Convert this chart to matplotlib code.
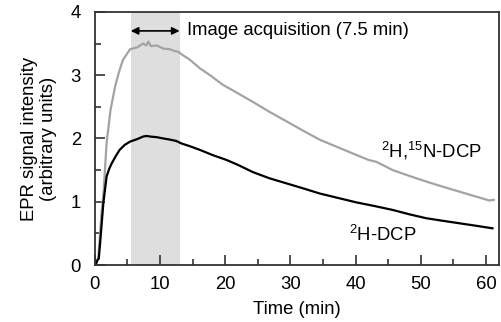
import matplotlib.pyplot as plt
from matplotlib.ticker import MultipleLocator

plt.rcParams['font.family'] = ['Liberation Sans', 'DejaVu Sans']
plt.rcParams['mathtext.default'] = 'regular'

# values
t_15n = [0.3, 0.5, 0.8, 1.0, 1.3, 1.8, 2.4, 3.1, 3.7, 4.3, 5.4, 6.5, 7.4, 7.9, 8.2, 8.6, 9.5,
         10.5, 11.5, 12.3, 12.8, 13.3, 14.5, 16.1, 17.8, 19.6, 21.5, 24.2, 26.8, 29.4, 32.0,
         34.5, 37.3, 40.1, 42.0, 43.2, 45.7, 48.2, 50.8, 53.3, 55.9, 58.2, 60.5, 61.2]
v_15n = [0.05, 0.1, 0.5, 0.8, 1.1, 1.93, 2.45, 2.82, 3.05, 3.24, 3.41, 3.44, 3.50, 3.47, 3.53,
         3.46, 3.47, 3.42, 3.41, 3.38, 3.37, 3.33, 3.25, 3.11, 2.99, 2.85, 2.74, 2.58, 2.42,
         2.27, 2.12, 1.98, 1.86, 1.74, 1.66, 1.63, 1.50, 1.41, 1.32, 1.24, 1.16, 1.09, 1.02, 1.03]

t_2h = [0.2, 0.4, 0.6, 0.8, 1.3, 1.8, 2.2, 2.6, 3.2, 3.8, 4.6, 5.4, 6.5, 7.4, 7.9, 8.5, 9.5,
        10.5, 11.6, 12.5, 13.3, 14.5, 16.1, 18.0, 20.2, 22.0, 24.2, 26.8, 29.4, 32.0, 34.5,
        37.3, 40.1, 43.0, 45.7, 48.3, 50.8, 53.3, 55.9, 58.5, 61.0]
v_2h = [0.02, 0.08, 0.1, 0.34, 0.98, 1.40, 1.52, 1.61, 1.72, 1.82, 1.90, 1.95, 1.99, 2.03, 2.04,
        2.03, 2.02, 2.00, 1.98, 1.96, 1.92, 1.88, 1.82, 1.74, 1.66, 1.58, 1.47, 1.37, 1.29,
        1.21, 1.13, 1.06, 0.99, 0.93, 0.87, 0.80, 0.74, 0.70, 0.66, 0.62, 0.58]

acq_start, acq_end = 5.5, 13.0

fig = plt.figure(figsize=(5.02, 3.22), dpi=100)
ax = fig.add_axes([0.189, 0.177, 0.805, 0.786])

ax.axvspan(acq_start, acq_end, color='#dedede', lw=0, zorder=0)
ax.plot(t_15n, v_15n, color='#a3a3a3', lw=1.6)
ax.plot(t_2h, v_2h, color='black', lw=1.6)

ax.annotate('', xy=(acq_start, 3.7), xytext=(acq_end, 3.7),
            arrowprops=dict(arrowstyle='<|-|>', color='black', lw=1.2,
                            mutation_scale=11, shrinkA=0, shrinkB=0))
ax.text(14.2, 3.7, 'Image acquisition (7.5 min)', fontsize=13.3, va='center', ha='left')

ax.text(51.6, 1.81, r'$^{2}$H,$^{15}$N-DCP', fontsize=13.3, ha='center', va='center')
ax.text(44.1, 0.47, r'$^{2}$H-DCP', fontsize=13.3, ha='center', va='center')

ax.set_xlim(0, 62)
ax.set_ylim(0, 4)
ax.xaxis.set_major_locator(MultipleLocator(10))
ax.xaxis.set_minor_locator(MultipleLocator(5))
ax.yaxis.set_major_locator(MultipleLocator(1))
ax.yaxis.set_minor_locator(MultipleLocator(0.5))
ax.tick_params(which='both', direction='in', labelsize=13.3, width=1.2, color='#333333')
ax.tick_params(axis='x', pad=8)
ax.tick_params(axis='y', pad=10)
ax.tick_params(which='major', length=7)
ax.tick_params(which='minor', length=4)
for s in ax.spines.values():
    s.set_linewidth(1.3)
    s.set_color('#333333')

ax.set_xlabel('Time (min)', fontsize=13.3, labelpad=6)
ax.set_ylabel('EPR signal intensity\n(arbitrary units)', fontsize=13.3, labelpad=10,
              linespacing=1.15)

fig.savefig('out.png', dpi=100)
